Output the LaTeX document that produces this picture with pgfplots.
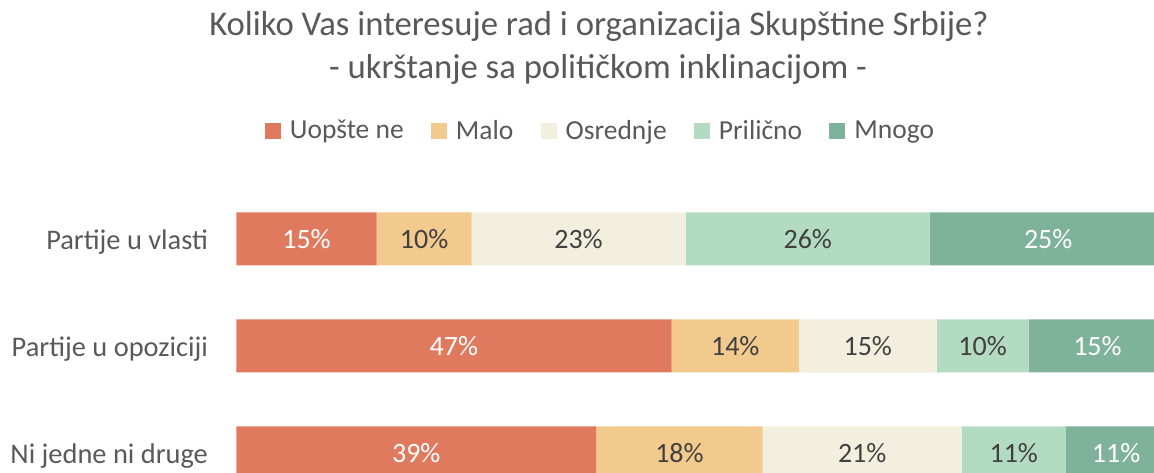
\documentclass[border=0pt]{standalone}
\usepackage{pgfplots}
\pgfplotsset{compat=1.18}
\usepackage{pgfplotstable}
\usepackage{fontspec}
\setmainfont{Carlito}

\definecolor{cUop}{HTML}{E07A5F}
\definecolor{cMal}{HTML}{F2CA8D}
\definecolor{cOsr}{HTML}{F3EFDF}
\definecolor{cPri}{HTML}{B3DBC2}
\definecolor{cMno}{HTML}{7FB29A}
\definecolor{cTxt}{HTML}{595959}
\definecolor{cDark}{HTML}{404040}

\newcommand{\ttl}{\fontsize{17.35}{21}\selectfont}
\newcommand{\lbl}{\fontsize{14.2}{16}\selectfont}
\newcommand{\leg}{\fontsize{13.75}{16}\selectfont}
\newcommand{\pct}{\fontsize{14}{16}\selectfont}

% shares per row (segment widths), and the rounded labels
\pgfplotstableread{
row u m o p n lu lm lo lp ln
0 15.1 10.2 23.0 26.3 25.4 15 10 23 26 25
1 46.8 13.7 14.8 9.9 14.8 47 14 15 10 15
2 38.7 17.9 21.4 11.2 10.8 39 18 21 11 11
}\rezultati

\pgfplotsset{
  seg/.style 2 args={fill=#1, draw=none,
    every node near coord/.append style={text=#2}},
}

\begin{document}
\begin{tikzpicture}
\begin{axis}[
  at={(118.15pt,143.35pt)}, anchor=north west,
  x=4.65pt, y=53.5pt,
  xbar stacked, bar width=26.5pt,
  xmin=0, xmax=100, ymin=-0.5, ymax=2.5, y dir=reverse,
  enlargelimits=false,
  axis line style={draw=none}, tick style={draw=none},
  xtick=\empty, ytick={0,1,2},
  yticklabels={Partije u vlasti,Partije u opoziciji,Ni jedne ni druge},
  yticklabel style={anchor=base east, inner sep=0pt, xshift=-14pt, yshift=-5.1pt, font=\lbl, text=cTxt},
  /pgf/number format/assume math mode=true,
  point meta=explicit,
  nodes near coords={\pgfmathprintnumber[fixed,precision=0]{\pgfplotspointmeta}\%},
  every node near coord/.append style={font=\pct, anchor=center},
  legend columns=5,
  legend cell align=left,
  legend image code/.code={\fill[#1] (0pt,-4pt) rectangle (8pt,4pt); \path (10.5pt,0pt);},
  legend style={at={(0.3927,1.169)}, anchor=center, draw=none, fill=none, inner sep=0pt,
    font=\leg, text=cTxt, /tikz/every even column/.append style={column sep=11.6pt}},
]
\addplot[seg={cUop}{white}] table[x=u, y=row, meta=lu] {\rezultati};
\addlegendentry{Uopšte ne}
\addplot[seg={cMal}{cDark}] table[x=m, y=row, meta=lm] {\rezultati};
\addlegendentry{Malo}
\addplot[seg={cOsr}{cDark}] table[x=o, y=row, meta=lo] {\rezultati};
\addlegendentry{Osrednje}
\addplot[seg={cPri}{cDark}] table[x=p, y=row, meta=lp] {\rezultati};
\addlegendentry{Prilično}
\addplot[seg={cMno}{white}] table[x=n, y=row, meta=ln] {\rezultati};
\addlegendentry{Mnogo}
\end{axis}
\node[anchor=base, font=\ttl, text=cTxt] at (299.5pt,218pt) {Koliko Vas interesuje rad i organizacija Skupštine Srbije?};
\node[anchor=base, font=\ttl, text=cTxt] at (299pt,196.7pt) {- ukrštanje sa političkom inklinacijom -};
\pgfresetboundingbox
\path[use as bounding box] (0,0) rectangle (577pt,236pt);
\end{tikzpicture}
\end{document}
